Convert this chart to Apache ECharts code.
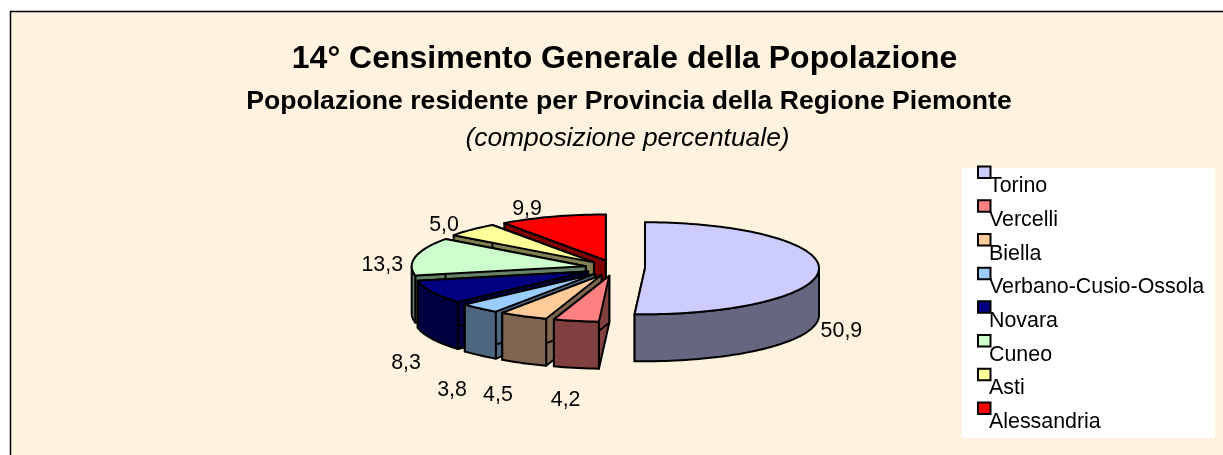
<!DOCTYPE html>
<html><head><meta charset="utf-8">
<style>html,body{margin:0;padding:0;background:#fff}#c{width:1223px;height:455px}</style>
<script src="https://cdn.jsdelivr.net/npm/echarts@6/dist/echarts.min.js"></script>
</head><body><div id="c"></div>
<script>
const categories = ['Torino','Vercelli','Biella','Verbano-Cusio-Ossola','Novara','Cuneo','Asti','Alessandria'];
const values = [50.9,4.2,4.5,3.8,8.3,13.3,5.0,9.9];
const topColors = ['#CCCCFF','#FF8080','#FFCC99','#99CCFF','#000080','#CCFFCC','#FFFF99','#FF0000'];
const sideColors = ['#666680','#804040','#806650','#4D6680','#000040','#668066','#808050','#800000'];
const titleText = '14° Censimento Generale della Popolazione';
const subtitleText = 'Popolazione residente per Provincia della Regione Piemonte';
const noteText = '(composizione percentuale)';

// Painter's order: far slices first, near slices last.
const paintOrder = [0,7,6,5,4,3,2,1];
// Label nudges from each slice's outer rim midpoint.
const labelNudge = [[22.5,61.5],[-10.5,79.5],[-25.5,78.5],[-27.5,81.5],[-26.5,70.5],[-33.5,8.5],[-27.5,-4.5],[-25.5,-7.5]];
const pie = {cx:615, cy:268, rx:174, ry:46, depth:47, ex:30, ey:7.9};
const FONT = '"Liberation Sans", Arial, sans-serif';

const total = values.reduce((a,b)=>a+b,0);
const spans = [];
values.reduce((acc,v)=>{ const next = acc+v/total*2*Math.PI; spans.push([acc,next]); return next; },0);

function sliceGroup(i, api){
  const [a0,a1] = spans[i], mid=(a0+a1)/2;
  const cx = pie.cx+pie.ex*Math.sin(mid), cy = pie.cy-pie.ey*Math.cos(mid);
  const rim = (a,dy)=>[cx+pie.rx*Math.sin(a), cy-pie.ry*Math.cos(a)+dy];
  const arc = (from,to,dy)=>{ const n=Math.max(2,Math.ceil(Math.abs(to-from)/0.03)); const p=[];
    for(let k=0;k<=n;k++) p.push(rim(from+(to-from)*k/n,dy)); return p; };
  const sty = (fill)=>({fill, stroke:'#000', lineWidth:2, lineJoin:'round'});
  const children = [];
  [a0,a1].forEach(a=>{
    children.push({type:'polygon',shape:{points:[[cx,cy],rim(a,0),rim(a,pie.depth),[cx,cy+pie.depth]]},style:sty(sideColors[i])});
  });
  const w0=Math.max(a0,Math.PI/2), w1=Math.min(a1,Math.PI*1.5);
  if(w1>w0){
    children.push({type:'polygon',shape:{points:arc(w0,w1,0).concat(arc(w1,w0,pie.depth))},style:sty(sideColors[i])});
  }
  children.push({type:'polygon',shape:{points:[[cx,cy]].concat(arc(a0,a1,0))},style:sty(topColors[i])});
  const sx = pie.cx+(pie.ex+pie.rx)*Math.sin(mid), sy = pie.cy-(pie.ey+pie.ry)*Math.cos(mid);
  children.push({type:'text',style:{text:api.value(0).toFixed(1).replace('.',','),
    x:sx+labelNudge[i][0], y:sy+labelNudge[i][1], fill:'#000', font:'21.4px '+FONT, align:'center', verticalAlign:'middle'},z2:10});
  return {type:'group',children};
}

const chart = echarts.init(document.getElementById('c'),null,{renderer:'canvas'});
chart.setOption({
  animation:false,
  backgroundColor:'#fff',
  graphic:{elements:[
    {type:'rect',z:-10,silent:true,shape:{x:10.5,y:11.5,width:1300,height:1300},style:{fill:'#FFF2DF',stroke:'#000',lineWidth:1.5}},
    {type:'rect',z:-5,silent:true,shape:{x:962,y:168,width:253,height:270},style:{fill:'#fff'}}
  ]},
  title:[
    {text:titleText,left:624.5,top:43,textAlign:'center',textStyle:{fontFamily:FONT,fontSize:32,fontWeight:'bold',color:'#000'},padding:0},
    {text:subtitleText,left:629,top:88,textAlign:'center',textStyle:{fontFamily:FONT,fontSize:26.6,fontWeight:'bold',color:'#000'},padding:0},
    {text:noteText,left:627.5,top:125.5,textAlign:'center',textStyle:{fontFamily:FONT,fontSize:26.4,fontStyle:'italic',fontWeight:'normal',color:'#000'},padding:0}
  ],
  legend:{
    orient:'vertical',left:977,top:144.3,padding:0,itemWidth:12.5,itemHeight:11.5,itemGap:-22.3,icon:'rect',
    data:categories,selectedMode:false,
    itemStyle:{borderColor:'#000',borderWidth:2},
    formatter:n=>'\n'+n,
    textStyle:{fontFamily:FONT,fontSize:21.4,lineHeight:28,color:'#000',padding:[0,0,0,-6.5]}
  },
  series:paintOrder.map(i=>({
    type:'custom',name:categories[i],coordinateSystem:'none',
    itemStyle:{color:topColors[i]},
    data:[[values[i]]],
    renderItem:(p,api)=>sliceGroup(i,api)
  }))
});
</script></body></html>
